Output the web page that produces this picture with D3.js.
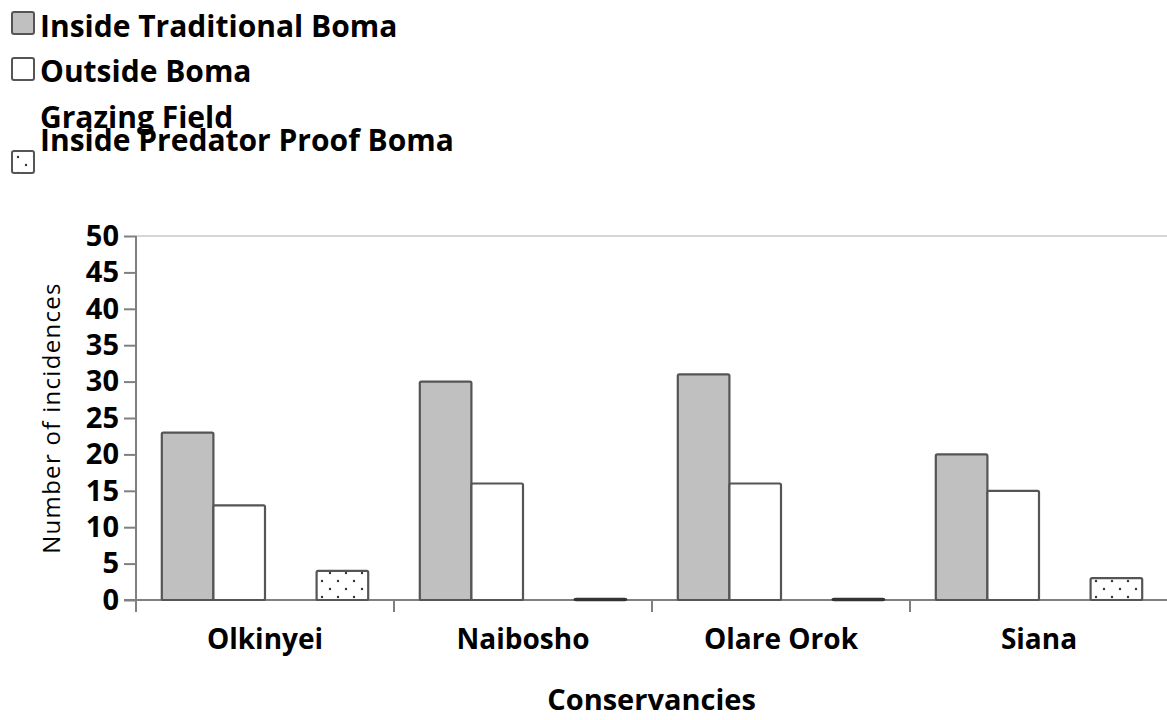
<!DOCTYPE html>
<html>
<head>
<meta charset="utf-8">
<script src="https://cdn.jsdelivr.net/npm/d3@7"></script>
<style>
  body { margin: 0; background: #fff; }
  svg text { font-family: "Open Sans", "DejaVu Sans", sans-serif; }
</style>
</head>
<body>
<div id="chart"></div>
<script>
var categories = ["Olkinyei", "Naibosho", "Olare Orok", "Siana"];
var seriesNames = ["Inside Traditional Boma", "Outside Boma", "Grazing Field", "Inside Predator Proof Boma"];
var traditional = [23, 30, 31, 20];
var outside = [13, 16, 16, 15];
var grazing = [null, null, null, null];
var predator = [4, 0, 0, 3];
var yTicks = [0, 5, 10, 15, 20, 25, 30, 35, 40, 45, 50];

var seriesValues = [traditional, outside, grazing, predator];
var seriesFill = ["#c0c0c0", "#ffffff", "none", "url(#dots)"];

var W = 1167, H = 720;
var margin = {top: 236, right: 0, bottom: 120, left: 136};

var svg = d3.select("#chart").append("svg")
    .attr("width", W)
    .attr("height", H);

var defs = svg.append("defs");
var pat = defs.append("pattern")
    .attr("id", "dots")
    .attr("patternUnits", "userSpaceOnUse")
    .attr("width", 16).attr("height", 16)
    .attr("x", 2).attr("y", 1);
pat.append("rect").attr("width", 16).attr("height", 16).attr("fill", "#fff");
pat.append("circle").attr("cx", 8).attr("cy", 4).attr("r", 1.2).attr("fill", "#333");
pat.append("circle").attr("cx", 0).attr("cy", 12).attr("r", 1.2).attr("fill", "#333");
pat.append("circle").attr("cx", 16).attr("cy", 12).attr("r", 1.2).attr("fill", "#333");

var xScale = d3.scaleBand()
    .domain(categories)
    .range([margin.left, 1168])
    .padding(0);

var xInner = d3.scaleBand()
    .domain(d3.range(seriesNames.length))
    .range([0, xScale.bandwidth()])
    .paddingInner(0)
    .paddingOuter(0.5);

var yScale = d3.scaleLinear()
    .domain([0, 50])
    .range([H - margin.bottom, margin.top]);

// top gridline
svg.append("line")
    .attr("x1", margin.left).attr("x2", W)
    .attr("y1", yScale(50)).attr("y2", yScale(50))
    .attr("stroke", "#c8c8c8").attr("stroke-width", 1.5);

// y axis
var yAxis = svg.append("g")
    .attr("transform", "translate(" + margin.left + ",0)")
    .call(d3.axisLeft(yScale).tickValues(yTicks).tickSize(12).tickPadding(5));
yAxis.attr("font-family", null);
yAxis.select(".domain").remove();
yAxis.selectAll(".tick line").attr("stroke", "#808080").attr("stroke-width", 2);
yAxis.selectAll(".tick text")
    .attr("fill", "#000")
    .style("font-size", "29px")
    .style("font-weight", "bold");
svg.append("line")
    .attr("x1", margin.left).attr("x2", margin.left)
    .attr("y1", yScale(50)).attr("y2", yScale(0) + 12)
    .attr("stroke", "#808080").attr("stroke-width", 2);

// x axis
svg.append("line")
    .attr("x1", margin.left - 12).attr("x2", W)
    .attr("y1", yScale(0)).attr("y2", yScale(0))
    .attr("stroke", "#808080").attr("stroke-width", 2);
svg.selectAll(".xtick")
    .data(categories.slice(1))
    .enter().append("line")
    .attr("class", "xtick")
    .attr("x1", function(d) { return xScale(d); })
    .attr("x2", function(d) { return xScale(d); })
    .attr("y1", yScale(0)).attr("y2", yScale(0) + 12)
    .attr("stroke", "#808080").attr("stroke-width", 2);

var xAxis = svg.append("g")
    .attr("transform", "translate(0," + yScale(0) + ")")
    .call(d3.axisBottom(xScale).tickSize(0).tickPadding(29));
xAxis.attr("font-family", null);
xAxis.select(".domain").remove();
xAxis.selectAll(".tick text")
    .attr("fill", "#000")
    .style("font-size", "28px")
    .style("font-weight", "bold");

// bars
var groups = svg.selectAll(".cat")
    .data(categories)
    .enter().append("g")
    .attr("class", "cat")
    .attr("transform", function(d) { return "translate(" + xScale(d) + ",0)"; });

groups.selectAll("rect")
    .data(function(d, i) {
      return seriesValues.map(function(s, k) { return {k: k, v: s[i]}; })
        .filter(function(e) { return e.v !== null; });
    })
    .enter().append("rect")
    .attr("x", function(d) { return xInner(d.k); })
    .attr("width", xInner.bandwidth())
    .attr("y", function(d) { return yScale(d.v) - (d.v === 0 ? 1 : 0); })
    .attr("height", function(d) { return Math.max(yScale(0) - yScale(d.v), 1); })
    .attr("rx", 1.5)
    .attr("fill", function(d) { return seriesFill[d.k]; })
    .attr("stroke", function(d) { return d.v === 0 ? "#333" : "#555"; })
    .attr("stroke-width", function(d) { return d.v === 0 ? 2.5 : 2.2; });

// axis titles
svg.append("text")
    .attr("transform", "translate(60," + ((yScale(0) + yScale(50)) / 2) + ") rotate(-90)")
    .attr("text-anchor", "middle")
    .style("font-size", "24px")
    .style("letter-spacing", "1.3px")
    .text("Number of incidences");

svg.append("text")
    .attr("x", (margin.left + W) / 2)
    .attr("y", 710)
    .attr("text-anchor", "middle")
    .style("font-size", "29px")
    .style("font-weight", "bold")
    .text("Conservancies");

// legend
var legendRows = [
  {name: seriesNames[0], fill: seriesFill[0], ty: 37, sy: 12},
  {name: seriesNames[1], fill: seriesFill[1], ty: 82, sy: 58},
  {name: seriesNames[2], fill: null, ty: 128, sy: 0},
  {name: seriesNames[3], fill: seriesFill[3], ty: 151, sy: 151}
];
var legend = svg.append("g");
legendRows.forEach(function(r) {
  if (r.fill) {
    legend.append("rect")
      .attr("x", 12).attr("y", r.sy)
      .attr("width", 22).attr("height", 22)
      .attr("rx", 2)
      .attr("fill", r.fill)
      .attr("stroke", "#555").attr("stroke-width", 2);
  }
  legend.append("text")
    .attr("x", 40).attr("y", r.ty)
    .style("font-size", "30px")
    .style("font-weight", "bold")
    .text(r.name);
});
</script>
</body>
</html>
